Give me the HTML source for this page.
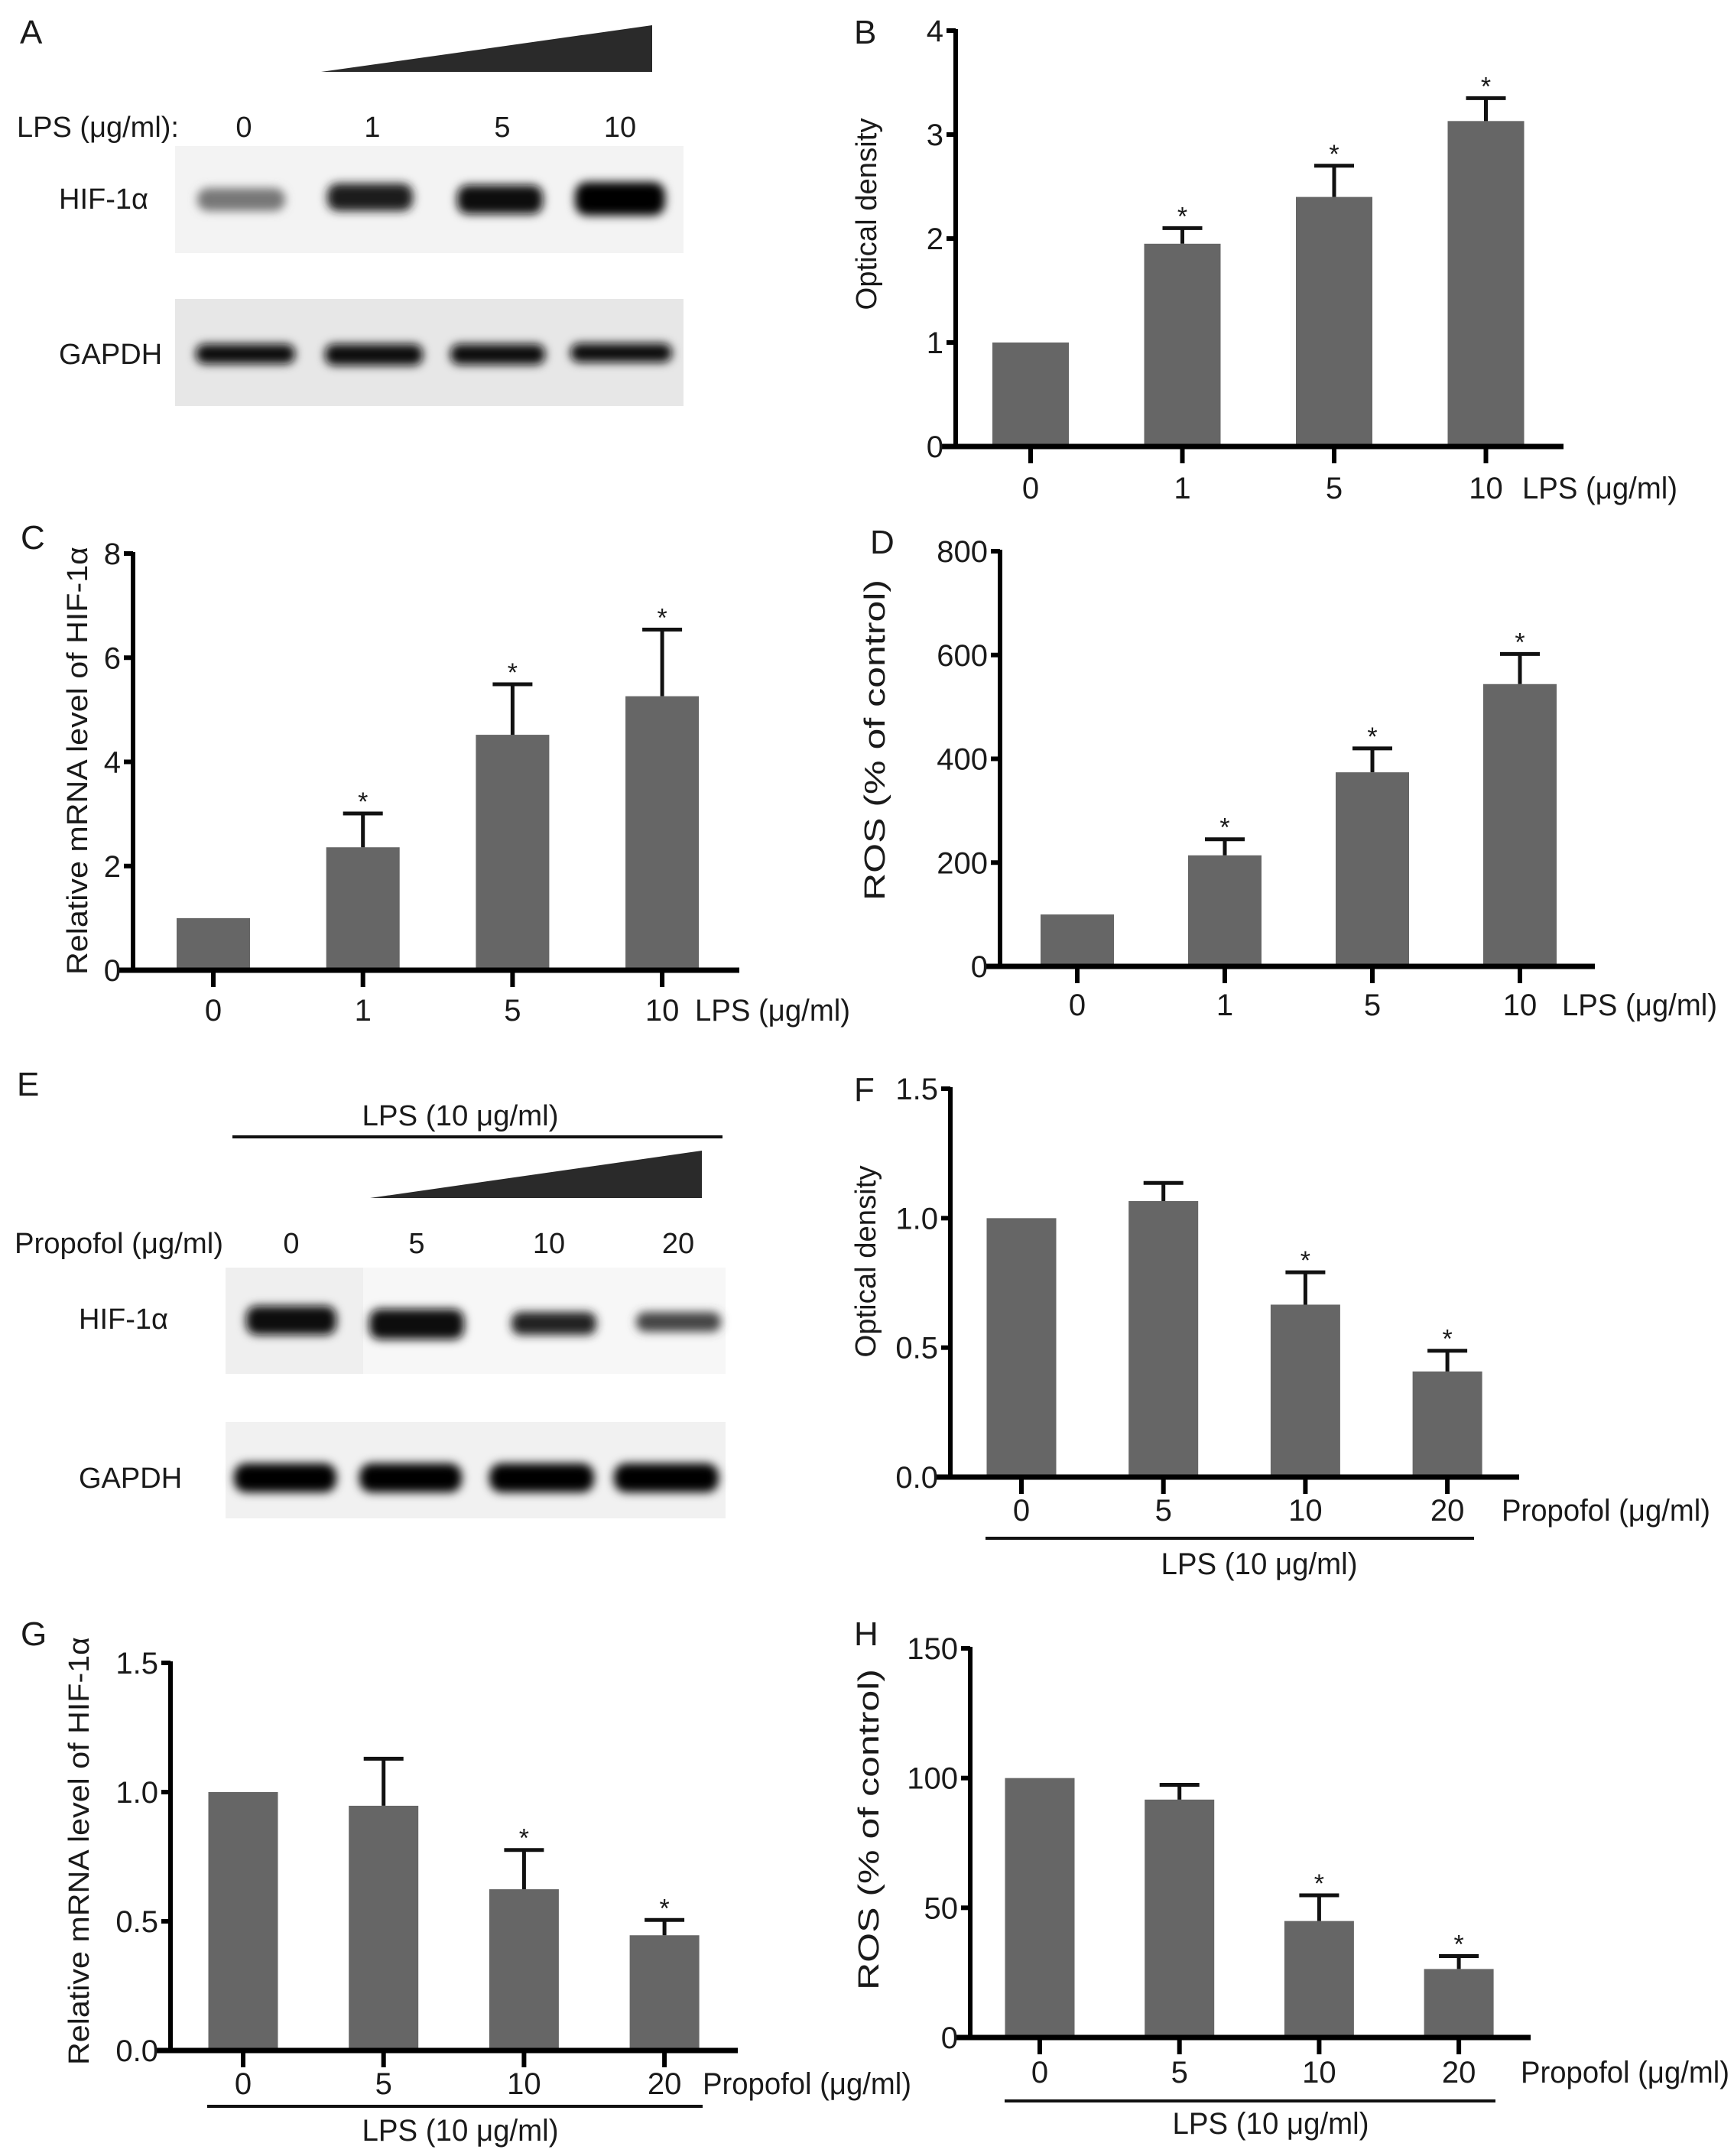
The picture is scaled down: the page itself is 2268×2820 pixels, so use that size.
<!DOCTYPE html>
<html><head><meta charset="utf-8">
<style>
html,body{margin:0;padding:0;background:#fff;}
svg{display:block;}
.n{font-family:"Liberation Sans Narrow","Liberation Sans",sans-serif;fill:#1a1a1a;}
.t{font-family:"Liberation Sans",sans-serif;fill:#1a1a1a;}
</style></head>
<body>
<svg id="fig" width="2268" height="2820" viewBox="0 0 2268 2820" xmlns="http://www.w3.org/2000/svg">
<defs>
<filter id="blur" x="-20%" y="-50%" width="140%" height="200%"><feGaussianBlur stdDeviation="6"/></filter>
</defs>
<!-- Panel A -->
<g>
<text class="n" x="26" y="57" font-size="44">A</text>
<polygon points="420,94 853,33 853,94" fill="#2a2a2a"/>
<text class="n" x="22" y="179" font-size="38" textLength="212" lengthAdjust="spacingAndGlyphs">LPS (μg/ml):</text>
<text class="n" x="319" y="179" font-size="38" text-anchor="middle">0</text>
<text class="n" x="487" y="179" font-size="38" text-anchor="middle">1</text>
<text class="n" x="657" y="179" font-size="38" text-anchor="middle">5</text>
<text class="n" x="811" y="179" font-size="38" text-anchor="middle">10</text>
<rect x="229" y="191" width="665" height="140" fill="#f3f3f3"/>
<g filter="url(#blur)">
<rect x="258" y="246" width="115" height="30" rx="14" fill="#777"/>
<rect x="428" y="240" width="112" height="36" rx="14" fill="#1a1a1a"/>
<rect x="598" y="242" width="112" height="38" rx="14" fill="#0d0d0d"/>
<rect x="752" y="238" width="118" height="44" rx="16" fill="#050505"/>
</g>
<text class="n" x="77" y="273" font-size="38">HIF-1α</text>
<rect x="229" y="391" width="665" height="140" fill="#e7e7e7"/>
<g filter="url(#blur)">
<rect x="256" y="450" width="130" height="26" rx="12" fill="#080808"/>
<rect x="425" y="450" width="128" height="28" rx="12" fill="#080808"/>
<rect x="589" y="450" width="124" height="27" rx="12" fill="#080808"/>
<rect x="746" y="449" width="133" height="25" rx="12" fill="#080808"/>
</g>
<text class="n" x="77" y="476" font-size="38">GAPDH</text>
</g>
<!-- Panel E -->
<g>
<text class="n" x="22" y="1433" font-size="44">E</text>
<text class="n" x="602" y="1472" font-size="38" text-anchor="middle" textLength="257" lengthAdjust="spacingAndGlyphs">LPS (10 μg/ml)</text>
<line x1="304" y1="1487" x2="945" y2="1487" stroke="#111" stroke-width="4"/>
<polygon points="484,1567 918,1505 918,1567" fill="#2a2a2a"/>
<text class="n" x="19" y="1639" font-size="38" textLength="273" lengthAdjust="spacingAndGlyphs">Propofol (μg/ml)</text>
<text class="n" x="381" y="1639" font-size="38" text-anchor="middle">0</text>
<text class="n" x="545" y="1639" font-size="38" text-anchor="middle">5</text>
<text class="n" x="718" y="1639" font-size="38" text-anchor="middle">10</text>
<text class="n" x="887" y="1639" font-size="38" text-anchor="middle">20</text>
<rect x="295" y="1658" width="180" height="139" fill="#efefef"/>
<rect x="475" y="1658" width="474" height="139" fill="#f7f7f7"/>
<g filter="url(#blur)">
<rect x="322" y="1708" width="118" height="38" rx="14" fill="#080808"/>
<rect x="483" y="1712" width="124" height="40" rx="14" fill="#0d0d0d"/>
<rect x="669" y="1716" width="111" height="30" rx="12" fill="#222"/>
<rect x="832" y="1716" width="111" height="26" rx="12" fill="#444"/>
</g>
<text class="n" x="103" y="1738" font-size="38">HIF-1α</text>
<rect x="295" y="1860" width="654" height="126" fill="#f1f1f1"/>
<g filter="url(#blur)">
<rect x="306" y="1914" width="134" height="38" rx="16" fill="#050505"/>
<rect x="470" y="1914" width="134" height="38" rx="16" fill="#050505"/>
<rect x="640" y="1914" width="137" height="38" rx="16" fill="#050505"/>
<rect x="803" y="1914" width="137" height="38" rx="16" fill="#050505"/>
</g>
<text class="n" x="103" y="1946" font-size="38">GAPDH</text>
</g>
</svg>
<script>
// ---- chart data ----
const doseCatsLPS = ["0", "1", "5", "10"];
const doseCatsProp = ["0", "5", "10", "20"];
const bValues = [1.0, 1.95, 2.40, 3.13];
const bErrors = [0, 0.15, 0.30, 0.22];
const bStars = [false, true, true, true];
const bTicks = [0, 1, 2, 3, 4];
const cValues = [1.0, 2.36, 4.52, 5.26];
const cErrors = [0, 0.65, 0.97, 1.28];
const cStars = [false, true, true, true];
const cTicks = [0, 2, 4, 6, 8];
const dValues = [100, 214, 374, 544];
const dErrors = [0, 31, 46, 58];
const dStars = [false, true, true, true];
const dTicks = [0, 200, 400, 600, 800];
const fValues = [1.0, 1.066, 0.666, 0.408];
const fErrors = [0, 0.07, 0.125, 0.08];
const fStars = [false, false, true, true];
const fTicks = ["0.0", "0.5", "1.0", "1.5"];
const gValues = [1.0, 0.947, 0.624, 0.446];
const gErrors = [0, 0.182, 0.152, 0.059];
const gStars = [false, false, true, true];
const gTicks = ["0.0", "0.5", "1.0", "1.5"];
const hValues = [100, 91.7, 44.9, 26.4];
const hErrors = [0, 5.7, 9.9, 5.0];
const hStars = [false, false, true, true];
const hTicks = [0, 50, 100, 150];

const NS = "http://www.w3.org/2000/svg";
const fig = document.getElementById("fig");
function mk(tag, attrs, parent) {
  const e = document.createElementNS(NS, tag);
  for (const k in attrs) e.setAttribute(k, attrs[k]);
  parent.appendChild(e);
  return e;
}
function drawChart(id, L, cats, vals, errs, stars, ticks) {
  const g = mk("g", {}, fig);
  
  
  const tmax = parseFloat(ticks[ticks.length - 1]);
  const y = v => L.y0 - (v / tmax) * (L.y0 - L.yTop);
  const x = i => L.first + i * L.pitch;
  // panel letter
  const pl = mk("text", {class: "n", x: L.letter[0], y: L.letter[1], "font-size": 44}, g);
  pl.textContent = id.toUpperCase();
  
  
  // bars
  vals.forEach((v, i) => {
    const r = mk("rect", {x: x(i) - L.bw / 2, y: y(v), width: L.bw, height: L.y0 - y(v), fill: "#666666"}, g);
    
    
    if (errs[i] > 0) {
      const top = y(v + errs[i]);
      const eb = mk("path", {d: "M" + x(i) + "," + y(v) + "V" + top + "M" + (x(i) - 26) + "," + top + "H" + (x(i) + 26), stroke: "#111", "stroke-width": 5, fill: "none"}, g);
      
      
      if (stars[i]) {
        const s = mk("text", {class: "t", x: x(i), y: top - 4, "font-size": 34, "text-anchor": "middle"}, g);
        s.textContent = "*";
        
        
      }
    }
  });
  // axes
  const ya = mk("line", {x1: L.ax, y1: L.yTop - 2, x2: L.ax, y2: L.y0 + 3, stroke: "#000", "stroke-width": 6}, g);
  
  
  const xa = mk("line", {x1: L.ax - 18, y1: L.y0, x2: L.xEnd, y2: L.y0, stroke: "#000", "stroke-width": 7}, g);
  
  
  ticks.forEach(t => {
    const ty = y(parseFloat(t));
    mk("line", {x1: L.ax - 12, y1: ty, x2: L.ax, y2: ty, stroke: "#000", "stroke-width": 6}, g);
    const tl = mk("text", {class: "n", x: L.ax - 16, y: ty + 14, "font-size": 40, "text-anchor": "end"}, g);
    tl.textContent = t;
    
    
  });
  cats.forEach((c, i) => {
    mk("line", {x1: x(i), y1: L.y0, x2: x(i), y2: L.y0 + 22, stroke: "#000", "stroke-width": 6}, g);
    const tl = mk("text", {class: "n", x: x(i), y: L.lblY, "font-size": 40, "text-anchor": "middle"}, g);
    tl.textContent = c;
    
    
  });
  const xt = mk("text", {class: "n", x: L.xlab[0], y: L.lblY, "font-size": 40, textLength: L.xlab[2], lengthAdjust: "spacingAndGlyphs"}, g);
  xt.textContent = L.xlab[3];
  
  
  const yt = mk("text", {class: "t", x: 0, y: 0, "font-size": 38, "text-anchor": "middle", "dominant-baseline": "central", textLength: L.ytl[3], lengthAdjust: "spacingAndGlyphs", transform: "translate(" + L.ytl[0] + "," + L.ytl[1] + ") rotate(-90)"}, g);
  yt.textContent = L.ytl[2];
  
  
  if (L.under) {
    const ul = mk("line", {x1: L.under[0], y1: L.under[2], x2: L.under[1], y2: L.under[2], stroke: "#111", "stroke-width": 4}, g);
    
    
    const ut = mk("text", {class: "n", x: L.under[3], y: L.under[4], "font-size": 40, "text-anchor": "middle", textLength: 257, lengthAdjust: "spacingAndGlyphs"}, g);
    ut.textContent = "LPS (10 μg/ml)";
    
    
  }
}
drawChart("b", {ax:1250, y0:584, yTop:40, first:1348, pitch:198.5, bw:100, xEnd:2045, lblY:652, letter:[1117,57], xlab:[1991,0,203,"LPS (μg/ml)"], ytl:[1134,280,"Optical density",251]}, doseCatsLPS, bValues, bErrors, bStars, bTicks);
drawChart("c", {ax:174, y0:1269, yTop:724, first:279, pitch:195.7, bw:96, xEnd:967, lblY:1335, letter:[27,718], xlab:[909,0,203,"LPS (μg/ml)"], ytl:[102,995,"Relative mRNA level of HIF-1α",560]}, doseCatsLPS, cValues, cErrors, cStars, cTicks);
drawChart("d", {ax:1308, y0:1264, yTop:721, first:1409, pitch:193, bw:96, xEnd:2086, lblY:1328, letter:[1138,724], xlab:[2043,0,203,"LPS (μg/ml)"], ytl:[1145,968,"ROS (% of control)",420]}, doseCatsLPS, dValues, dErrors, dStars, dTicks);
drawChart("f", {ax:1243, y0:1932, yTop:1424, first:1336, pitch:185.7, bw:91, xEnd:1987, lblY:1989, letter:[1117,1440], xlab:[1964,0,273,"Propofol (μg/ml)"], ytl:[1133,1650,"Optical density",251], under:[1289,1928,2012,1647,2059]}, doseCatsProp, fValues, fErrors, fStars, fTicks);
drawChart("g", {ax:223, y0:2682, yTop:2175, first:318, pitch:183.7, bw:91, xEnd:965, lblY:2739, letter:[27,2152], xlab:[919,0,273,"Propofol (μg/ml)"], ytl:[104,2421,"Relative mRNA level of HIF-1α",560], under:[271,919,2755,602,2800]}, doseCatsProp, gValues, gErrors, gStars, gTicks);
drawChart("h", {ax:1269, y0:2665, yTop:2156, first:1360, pitch:182.7, bw:91, xEnd:2002, lblY:2724, letter:[1117,2152], xlab:[1989,0,273,"Propofol (μg/ml)"], ytl:[1137,2393,"ROS (% of control)",420], under:[1314,1956,2748,1662,2791]}, doseCatsProp, hValues, hErrors, hStars, hTicks);
</script>
</body></html>
